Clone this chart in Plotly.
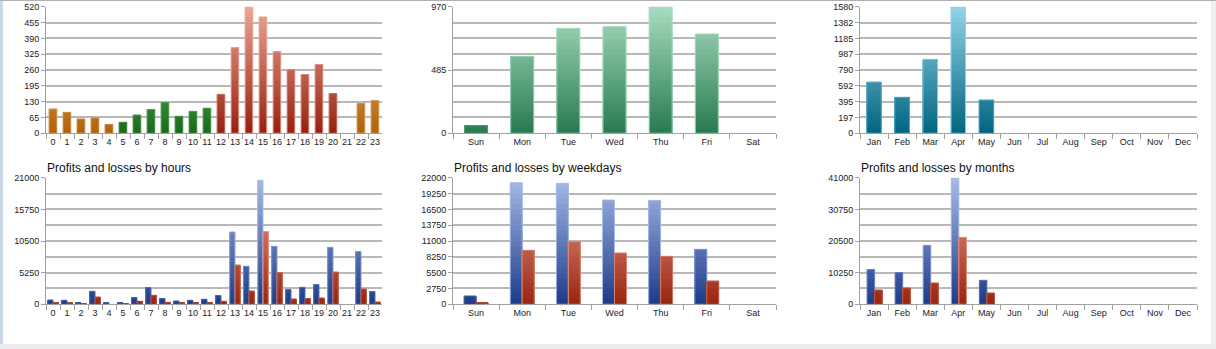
import plotly.graph_objects as go

# ---------------- data ----------------
hours = [str(h) for h in range(24)]
hour_counts = [100, 86, 59, 63, 36, 45, 75, 97, 126, 70, 90, 103,
               160, 352, 520, 478, 335, 261, 241, 283, 163, 0, 122, 135]
hour_family = ['orange'] * 5 + ['green'] * 7 + ['red'] * 9 + ['orange'] * 3

weekdays = ['Sun', 'Mon', 'Tue', 'Wed', 'Thu', 'Fri', 'Sat']
weekday_counts = [59, 590, 804, 817, 970, 761, 0]

months = ['Jan', 'Feb', 'Mar', 'Apr', 'May', 'Jun', 'Jul', 'Aug', 'Sep', 'Oct', 'Nov', 'Dec']
month_counts = [640, 449, 923, 1580, 416, 0, 0, 0, 0, 0, 0, 0]

hour_profits = [718, 663, 221, 2155, 221, 221, 1105, 2763, 939, 553, 663, 829,
                1437, 11992, 6300, 20557, 9615, 2431, 2818, 3260, 9450, 0, 8731, 2100]
hour_losses = [276, 221, 55, 1216, 0, 55, 497, 1492, 332, 166, 221, 221,
               497, 6521, 2210, 12047, 5250, 884, 939, 1050, 5360, 0, 2542, 387]

weekday_profits = [1447, 21130, 21014, 18120, 18061, 9552, 0]
weekday_losses = [232, 9378, 10883, 8915, 8336, 4052, 0]

month_profits = [11221, 10250, 19098, 41000, 7769, 0, 0, 0, 0, 0, 0, 0]
month_losses = [4640, 5287, 6906, 21688, 3669, 0, 0, 0, 0, 0, 0, 0]

titles = ['Profits and losses by hours', 'Profits and losses by weekdays', 'Profits and losses by months']

# ---------------- styling ----------------
W, H = 1216, 349
FONT = 'Liberation Sans, Arial, sans-serif'
GRADS = {
    'orange': ((176, 98, 10), (244, 200, 144)),
    'green': ((26, 106, 26), (140, 208, 140)),
    'red': ((150, 32, 16), (234, 168, 152)),
    'wgreen': ((40, 122, 80), (168, 220, 192)),
    'teal': ((0, 100, 128), (148, 212, 232)),
    'blue': ((28, 58, 136), (168, 188, 232)),
    'loss': ((152, 36, 16), (240, 168, 152)),
}


def lerp(fam, t):
    b, tp = GRADS[fam]
    t = max(0.0, min(1.0, t))
    return 'rgb(%d,%d,%d)' % tuple(round(b[i] + (tp[i] - b[i]) * t) for i in range(3))


fig = go.Figure()
N = 24


def add_bars(idx, cats, vals, fams, ymax, offset, width):
    ax = '' if idx == 1 else str(idx)
    for k in range(N, 0, -1):
        level = ymax * k / N
        ys = [min(v, level) for v in vals]
        t = (k - 0.5) / N
        fig.add_trace(go.Bar(
            x=cats, y=ys, width=width, offset=offset,
            marker=dict(color=[lerp(f, t) for f in fams], line=dict(width=0)),
            xaxis='x' + ax, yaxis='y' + ax, showlegend=False, hoverinfo='skip'))
    # outline
    fig.add_trace(go.Bar(
        x=cats, y=vals, width=width, offset=offset,
        marker=dict(color='rgba(0,0,0,0)',
                    line=dict(color=[lerp(f, v / ymax + 0.3) for f, v in zip(fams, vals)],
                              width=[1 if v > 0 else 0 for v in vals])),
        xaxis='x' + ax, yaxis='y' + ax, showlegend=False, hoverinfo='skip'))


cols = [(46, 382), (453, 776), (860, 1197)]
rows = [(6.7, 133.3), (177.7, 304.3)]

# top row
add_bars(1, hours, hour_counts, hour_family, 520, -0.28, 0.55)
add_bars(2, weekdays, weekday_counts, ['wgreen'] * 7, 970, -0.25, 0.5)
add_bars(3, months, month_counts, ['teal'] * 12, 1580, -0.26, 0.52)
# bottom row
add_bars(4, hours, hour_profits, ['blue'] * 24, 21000, -0.38, 0.38)
add_bars(4, hours, hour_losses, ['loss'] * 24, 21000, 0.0, 0.38)
add_bars(5, weekdays, weekday_profits, ['blue'] * 7, 22000, -0.26, 0.26)
add_bars(5, weekdays, weekday_losses, ['loss'] * 7, 22000, 0.0, 0.26)
add_bars(6, months, month_profits, ['blue'] * 12, 41000, -0.25, 0.27)
add_bars(6, months, month_losses, ['loss'] * 12, 41000, 0.02, 0.27)

yspecs = {
    1: (520, [65 * i for i in range(9)], None),
    2: (970, [0, 485, 970], 121.25),
    3: (1580, [197.5 * i for i in range(9)], None),
    4: (21000, [5250 * i for i in range(5)], 2625),
    5: (22000, [2750 * i for i in range(9)], None),
    6: (41000, [10250 * i for i in range(5)], 5125),
}
ncats = {1: 24, 2: 7, 3: 12, 4: 24, 5: 7, 6: 12}

layout = dict(width=W, height=H, margin=dict(l=0, r=0, t=0, b=0, autoexpand=False),
              paper_bgcolor='white', plot_bgcolor='white', barmode='overlay',
              font=dict(family=FONT, size=9, color='#222222'), autosize=False)
GRID = '#b8b8b8'
AXC = '#a0a0a0'
for idx in range(1, 7):
    r = 0 if idx <= 3 else 1
    c = (idx - 1) % 3
    x0, x1 = cols[c]
    y0, y1 = rows[r]
    ax = '' if idx == 1 else str(idx)
    layout['xaxis' + ax] = dict(
        domain=[x0 / W, x1 / W], anchor='y' + ax, type='category',
        range=[-0.5, ncats[idx] - 0.5], showline=True, linecolor=AXC, linewidth=1,
        ticks='outside', tickson='boundaries', ticklen=5, tickcolor=AXC,
        tickangle=0, automargin=False,
        showgrid=False, tickfont=dict(size=9, color='#222222'), fixedrange=True)
    ymax, tv, minor = yspecs[idx]
    ya = dict(
        domain=[1 - y1 / H, 1 - y0 / H], anchor='x' + ax, range=[0, ymax],
        tickvals=tv, ticktext=[str(int(v)) for v in tv],
        showline=True, linecolor=AXC, linewidth=1, automargin=False,
        ticks='outside', ticklen=4, tickcolor=AXC, showgrid=True, gridcolor=GRID,
        gridwidth=2, zeroline=False, tickfont=dict(size=9, color='#222222'),
        fixedrange=True)
    if minor:
        ya['minor'] = dict(tick0=0, dtick=minor, showgrid=True, gridcolor=GRID,
                           gridwidth=2, ticks='')
    layout['yaxis' + ax] = ya

annotations = []
for c, t in enumerate(titles):
    annotations.append(dict(text=t, x=(cols[c][0] - 1) / W, y=1 - 168.3 / H,
                            xref='paper', yref='paper', xanchor='left', yanchor='middle',
                            showarrow=False, font=dict(size=12, color='#111111', family=FONT)))
layout['annotations'] = annotations

# frame decorations
shapes = [
    dict(type='rect', xref='paper', yref='paper', x0=0, x1=3 / W, y0=0, y1=1,
         fillcolor='#c9d7e6', line=dict(width=0), layer='below'),
    dict(type='rect', xref='paper', yref='paper', x0=1211 / W, x1=1, y0=0, y1=1,
         fillcolor='#f0f0f0', line=dict(width=0), layer='below'),
    dict(type='rect', xref='paper', yref='paper', x0=0, x1=1, y0=0, y1=1 - 344 / H,
         fillcolor='#ececec', line=dict(width=0), layer='below'),
    dict(type='line', xref='paper', yref='paper', x0=0, x1=1, y0=1 - 0.5 / H, y1=1 - 0.5 / H,
         line=dict(color='#b0b0b0', width=1)),
]
layout['shapes'] = shapes

fig.update_layout(**layout)
fig.write_html('out.html', config={'displayModeBar': False})
